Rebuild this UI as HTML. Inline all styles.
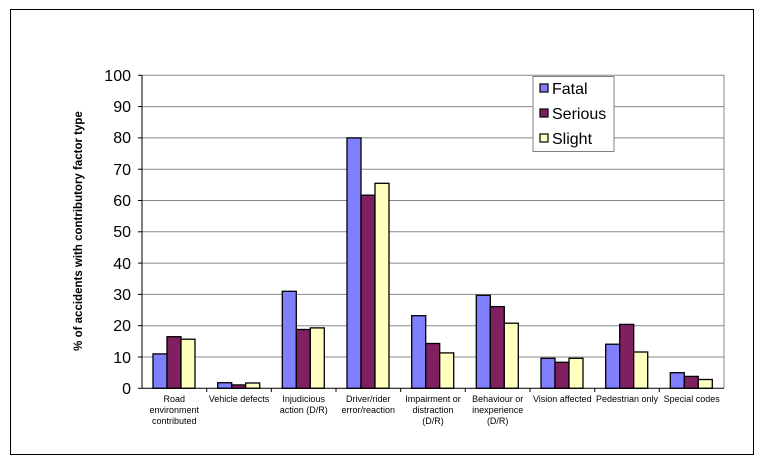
<!DOCTYPE html><html><head><meta charset="utf-8"><style>body{margin:0;background:#fff}svg{display:block}</style></head><body>
<svg width="765" height="466" xmlns="http://www.w3.org/2000/svg" font-family="Liberation Sans, Arial, sans-serif">
<rect x="10.5" y="9.5" width="743" height="445" fill="#fff" stroke="#000" stroke-width="1"/>
<g stroke="#888" stroke-width="1">
<line x1="142" y1="75.3" x2="724" y2="75.3"/><line x1="142" y1="106.6" x2="724" y2="106.6"/><line x1="142" y1="137.9" x2="724" y2="137.9"/><line x1="142" y1="169.2" x2="724" y2="169.2"/><line x1="142" y1="200.5" x2="724" y2="200.5"/><line x1="142" y1="231.8" x2="724" y2="231.8"/><line x1="142" y1="263.1" x2="724" y2="263.1"/><line x1="142" y1="294.4" x2="724" y2="294.4"/><line x1="142" y1="325.7" x2="724" y2="325.7"/><line x1="142" y1="357" x2="724" y2="357"/>
<line x1="724" y1="75" x2="724" y2="388"/>
</g>
<g stroke="#000" stroke-width="1.3">
<rect x="153" y="353.9" width="14" height="34.4" fill="#8080ff"/><rect x="167" y="336.7" width="14" height="51.6" fill="#802060"/><rect x="181" y="339.2" width="14" height="49.1" fill="#ffffc0"/>
<rect x="217.7" y="382.7" width="14" height="5.6" fill="#8080ff"/><rect x="231.7" y="384.9" width="14" height="3.4" fill="#802060"/><rect x="245.7" y="383" width="14" height="5.3" fill="#ffffc0"/>
<rect x="282.3" y="291.3" width="14" height="97" fill="#8080ff"/><rect x="296.3" y="329.5" width="14" height="58.8" fill="#802060"/><rect x="310.3" y="327.9" width="14" height="60.4" fill="#ffffc0"/>
<rect x="347" y="137.9" width="14" height="250.4" fill="#8080ff"/><rect x="361" y="195.2" width="14" height="193.1" fill="#802060"/><rect x="375" y="183.3" width="14" height="205" fill="#ffffc0"/>
<rect x="411.7" y="315.7" width="14" height="72.6" fill="#8080ff"/><rect x="425.7" y="343.5" width="14" height="44.8" fill="#802060"/><rect x="439.7" y="352.9" width="14" height="35.4" fill="#ffffc0"/>
<rect x="476.3" y="295.3" width="14" height="93" fill="#8080ff"/><rect x="490.3" y="306.6" width="14" height="81.7" fill="#802060"/><rect x="504.3" y="323.2" width="14" height="65.1" fill="#ffffc0"/>
<rect x="541" y="358.3" width="14" height="30" fill="#8080ff"/><rect x="555" y="362.3" width="14" height="26" fill="#802060"/><rect x="569" y="358.3" width="14" height="30" fill="#ffffc0"/>
<rect x="605.7" y="344.2" width="14" height="44.1" fill="#8080ff"/><rect x="619.7" y="324.4" width="14" height="63.9" fill="#802060"/><rect x="633.7" y="352" width="14" height="36.3" fill="#ffffc0"/>
<rect x="670.3" y="372.7" width="14" height="15.6" fill="#8080ff"/><rect x="684.3" y="376.4" width="14" height="11.9" fill="#802060"/><rect x="698.3" y="379.5" width="14" height="8.8" fill="#ffffc0"/>
</g>
<g stroke="#000" stroke-width="1">
<line x1="142" y1="75" x2="142" y2="388.3"/><line x1="138" y1="388.3" x2="724" y2="388.3"/>
<line x1="138" y1="75.3" x2="142" y2="75.3"/><line x1="138" y1="106.6" x2="142" y2="106.6"/><line x1="138" y1="137.9" x2="142" y2="137.9"/><line x1="138" y1="169.2" x2="142" y2="169.2"/><line x1="138" y1="200.5" x2="142" y2="200.5"/><line x1="138" y1="231.8" x2="142" y2="231.8"/><line x1="138" y1="263.1" x2="142" y2="263.1"/><line x1="138" y1="294.4" x2="142" y2="294.4"/><line x1="138" y1="325.7" x2="142" y2="325.7"/><line x1="138" y1="357" x2="142" y2="357"/>
<line x1="206.7" y1="388" x2="206.7" y2="392"/><line x1="271.3" y1="388" x2="271.3" y2="392"/><line x1="336" y1="388" x2="336" y2="392"/><line x1="400.7" y1="388" x2="400.7" y2="392"/><line x1="465.3" y1="388" x2="465.3" y2="392"/><line x1="530" y1="388" x2="530" y2="392"/><line x1="594.7" y1="388" x2="594.7" y2="392"/><line x1="659.3" y1="388" x2="659.3" y2="392"/>
</g>
<g font-size="16" text-anchor="end">
<text x="131" y="81">100</text><text x="131" y="112">90</text><text x="131" y="143">80</text><text x="131" y="175">70</text><text x="131" y="206">60</text><text x="131" y="237">50</text><text x="131" y="269">40</text><text x="131" y="300">30</text><text x="131" y="331">20</text><text x="131" y="363">10</text><text x="131" y="394">0</text>
</g>
<text transform="translate(82,231) rotate(-90)" font-size="11.5" font-weight="bold" text-anchor="middle">% of accidents with contributory factor type</text>
<g font-size="9" text-anchor="middle">
<text x="174.3" y="402">Road</text><text x="174.3" y="413">environment</text><text x="174.3" y="424">contributed</text>
<text x="239" y="402">Vehicle defects</text>
<text x="303.7" y="402">Injudicious</text><text x="303.7" y="413">action (D/R)</text>
<text x="368.3" y="402">Driver/rider</text><text x="368.3" y="413">error/reaction</text>
<text x="433" y="402">Impairment or</text><text x="433" y="413">distraction</text><text x="433" y="424">(D/R)</text>
<text x="497.7" y="402">Behaviour or</text><text x="497.7" y="413">inexperience</text><text x="497.7" y="424">(D/R)</text>
<text x="562.3" y="402">Vision affected</text>
<text x="627" y="402">Pedestrian only</text>
<text x="691.7" y="402">Special codes</text>
</g>
<rect x="533" y="76.5" width="81" height="75" fill="#fff" stroke="#808080"/>
<g stroke="#000" stroke-width="1.2">
<rect x="540" y="84" width="8" height="8" fill="#8080ff"/><rect x="540" y="109" width="8" height="8" fill="#802060"/><rect x="540" y="134" width="8" height="8" fill="#ffffc0"/>
</g>
<g font-size="16"><text x="552" y="94">Fatal</text><text x="552" y="119">Serious</text><text x="552" y="144">Slight</text></g>
</svg>
</body></html>
